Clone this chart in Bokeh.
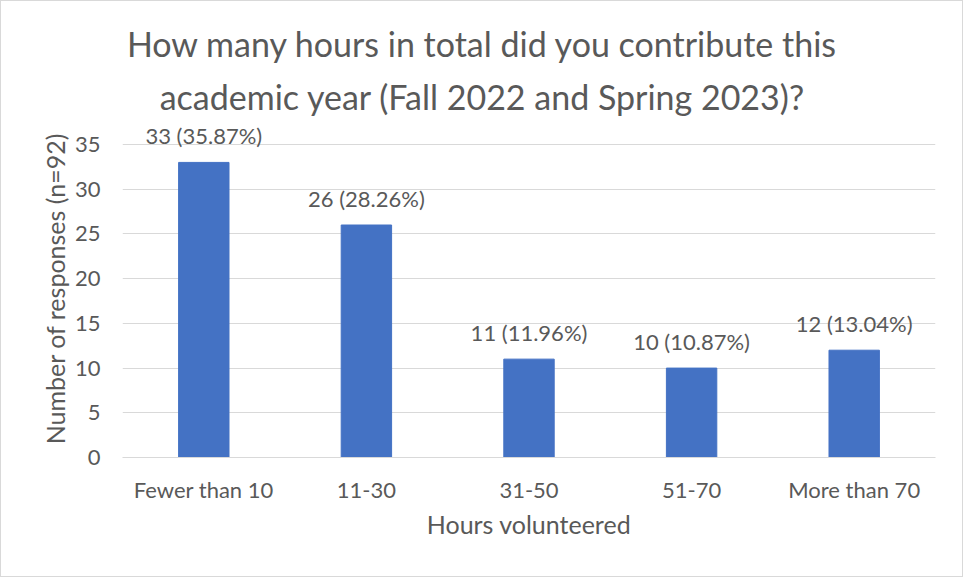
from bokeh.plotting import figure
from bokeh.models import ColumnDataSource, FixedTicker
from bokeh.layouts import column
from bokeh.core.properties import value
from bokeh.embed import file_html
from bokeh.resources import INLINE

categories = ["Fewer than 10", "11-30", "31-50", "51-70", "More than 70"]
counts = [33, 26, 11, 10, 12]
total_n = 92
y_ticks = [0, 5, 10, 15, 20, 25, 30, 35]
title_lines = ["How many hours in total did you contribute this",
               "academic year (Fall 2022 and Spring 2023)?"]

labels = [f"{c} ({c / total_n * 100:.2f}%)" for c in counts]
src = ColumnDataSource(dict(cat=categories, val=counts, lab=labels))

FONT = "Lato"
GRAY = "#595959"

# ---- title figure ----
t = figure(width=961, height=118, x_range=(0, 1), y_range=(0, 1),
           output_backend="svg", toolbar_location=None,
           x_axis_type=None, y_axis_type=None,
           min_border_left=0, min_border_right=0, min_border_top=0, min_border_bottom=0)
t.outline_line_color = None
t.xgrid.visible = False
t.ygrid.visible = False
tsrc = ColumnDataSource(dict(x=[0.443, 0.443], y=[0.64, 0.195], text=title_lines))
t.text(x="x", y="y", text="text", source=tsrc, text_align="center", text_baseline="middle",
       text_font=value(FONT), text_font_size="34px", text_color=GRAY)

# ---- main chart ----
p = figure(x_range=categories, y_range=(0, 37.8), width=961, height=457,
           output_backend="svg", toolbar_location=None,
           min_border_left=121, min_border_right=27, min_border_top=0, min_border_bottom=119)
p.outline_line_color = None

p.vbar(x="cat", top="val", width=0.31, source=src, color="#4472C4")
p.text(x="cat", y="val", text="lab", source=src, text_align="center", text_baseline="bottom",
       y_offset=-13, text_font=value(FONT), text_font_size="22px", text_color=GRAY)

p.xgrid.grid_line_color = None
p.ygrid.grid_line_color = "#d9d9d9"
p.ygrid.grid_line_width = 1

p.yaxis.ticker = FixedTicker(ticks=y_ticks)
p.yaxis.axis_line_color = None
p.yaxis.major_tick_line_color = None
p.yaxis.minor_tick_line_color = None
p.yaxis.major_tick_out = 0
p.yaxis.major_label_standoff = 22
p.yaxis.axis_label = "Number of responses (n=92)"
p.yaxis.axis_label_standoff = 2

p.xaxis.axis_line_color = "#d9d9d9"
p.xaxis.major_tick_line_color = None
p.xaxis.minor_tick_line_color = None
p.xaxis.major_tick_out = 0
p.xaxis.major_label_standoff = 18
p.xaxis.axis_label = "Hours volunteered"
p.xaxis.axis_label_standoff = 3

for ax in (p.xaxis, p.yaxis):
    ax.major_label_text_font = FONT
    ax.major_label_text_font_size = "22px"
    ax.major_label_text_color = GRAY
    ax.axis_label_text_font = FONT
    ax.axis_label_text_font_size = "25px"
    ax.axis_label_text_color = GRAY
    ax.axis_label_text_font_style = "normal"

layout = column(t, p, spacing=0)
layout.styles = {"border": "1px solid #d9d9d9", "background-color": "white"}

open("out.html", "w").write(file_html(layout, INLINE))
